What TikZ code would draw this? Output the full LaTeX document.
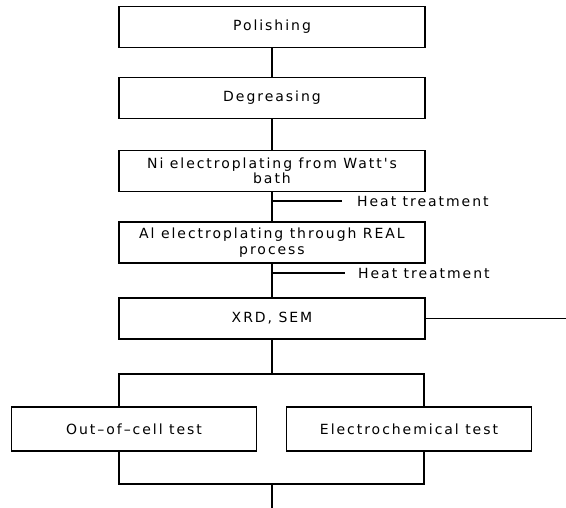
\documentclass[tikz,border=0pt]{standalone}
\usepackage{fontspec}
\newfontfamily\scanfont{DejaVu Sans}[LetterSpace=14]
\tikzset{
  stepbox/.style={draw, line width=1.1pt, minimum width=306pt, minimum height=41pt, inner sep=2pt, align=center},
  testbox/.style={draw, line width=1.1pt, minimum width=245pt, minimum height=44pt, inner sep=2pt, align=center},
  link/.style={line width=1.1pt}
}

\begin{document}
\begin{tikzpicture}[x=1pt, y=-1pt, font=\scanfont\fontsize{14}{15.5}\selectfont]
  \useasboundingbox (0,0) rectangle (566,508);
  \node[stepbox] (polish) at (272,27) {Polishing};
  \node[stepbox] (degrease) at (272,98) {Degreasing};
  \node[stepbox] (nickel) at (272,171) {Ni electroplating from Watt's\\bath};
  \node[stepbox] (alum) at (272,242.5) {Al electroplating through REAL\\process};
  \node[stepbox] (xrd) at (272,318.5) {XRD, SEM};
  \node[testbox] (outcell) at (134,429) {Out–of–cell test};
  \node[testbox] (electro) at (409,429) {Electrochemical test};
  \node[anchor=west, inner xsep=15pt, inner ysep=0pt] (heat1) at (342,201) {Heat treatment};
  \node[anchor=west, inner xsep=13pt, inner ysep=0pt] (heat2) at (345,273) {Heat treatment};
  \coordinate (ht1) at (272,201);
  \coordinate (ht2) at (272,273);
  \coordinate (forkL) at (119,374);
  \coordinate (forkM) at (272,374);
  \coordinate (forkR) at (424,374);
  \coordinate (joinL) at (119,484);
  \coordinate (joinM) at (272,484);
  \coordinate (joinR) at (424,484);
  \coordinate (endline) at (272,508);
  \coordinate (side) at (566,318.5);
  \draw[link] (polish) -- (degrease);
  \draw[link] (degrease) -- (nickel);
  \draw[link] (nickel) -- (alum);
  \draw[link] (alum) -- (xrd);
  \draw[link] (ht1) -- (heat1.west);
  \draw[link] (ht2) -- (heat2.west);
  \draw[link] (xrd.east) -- (side);
  \draw[link] (xrd) -- (forkM);
  \draw[link] (forkL |- outcell.north) -- (forkL) -- (forkR) -- (forkR |- electro.north);
  \draw[link] (forkL |- outcell.south) -- (joinL) -- (joinR) -- (joinR |- electro.south);
  \draw[link] (joinM) -- (endline);
\end{tikzpicture}
\end{document}
